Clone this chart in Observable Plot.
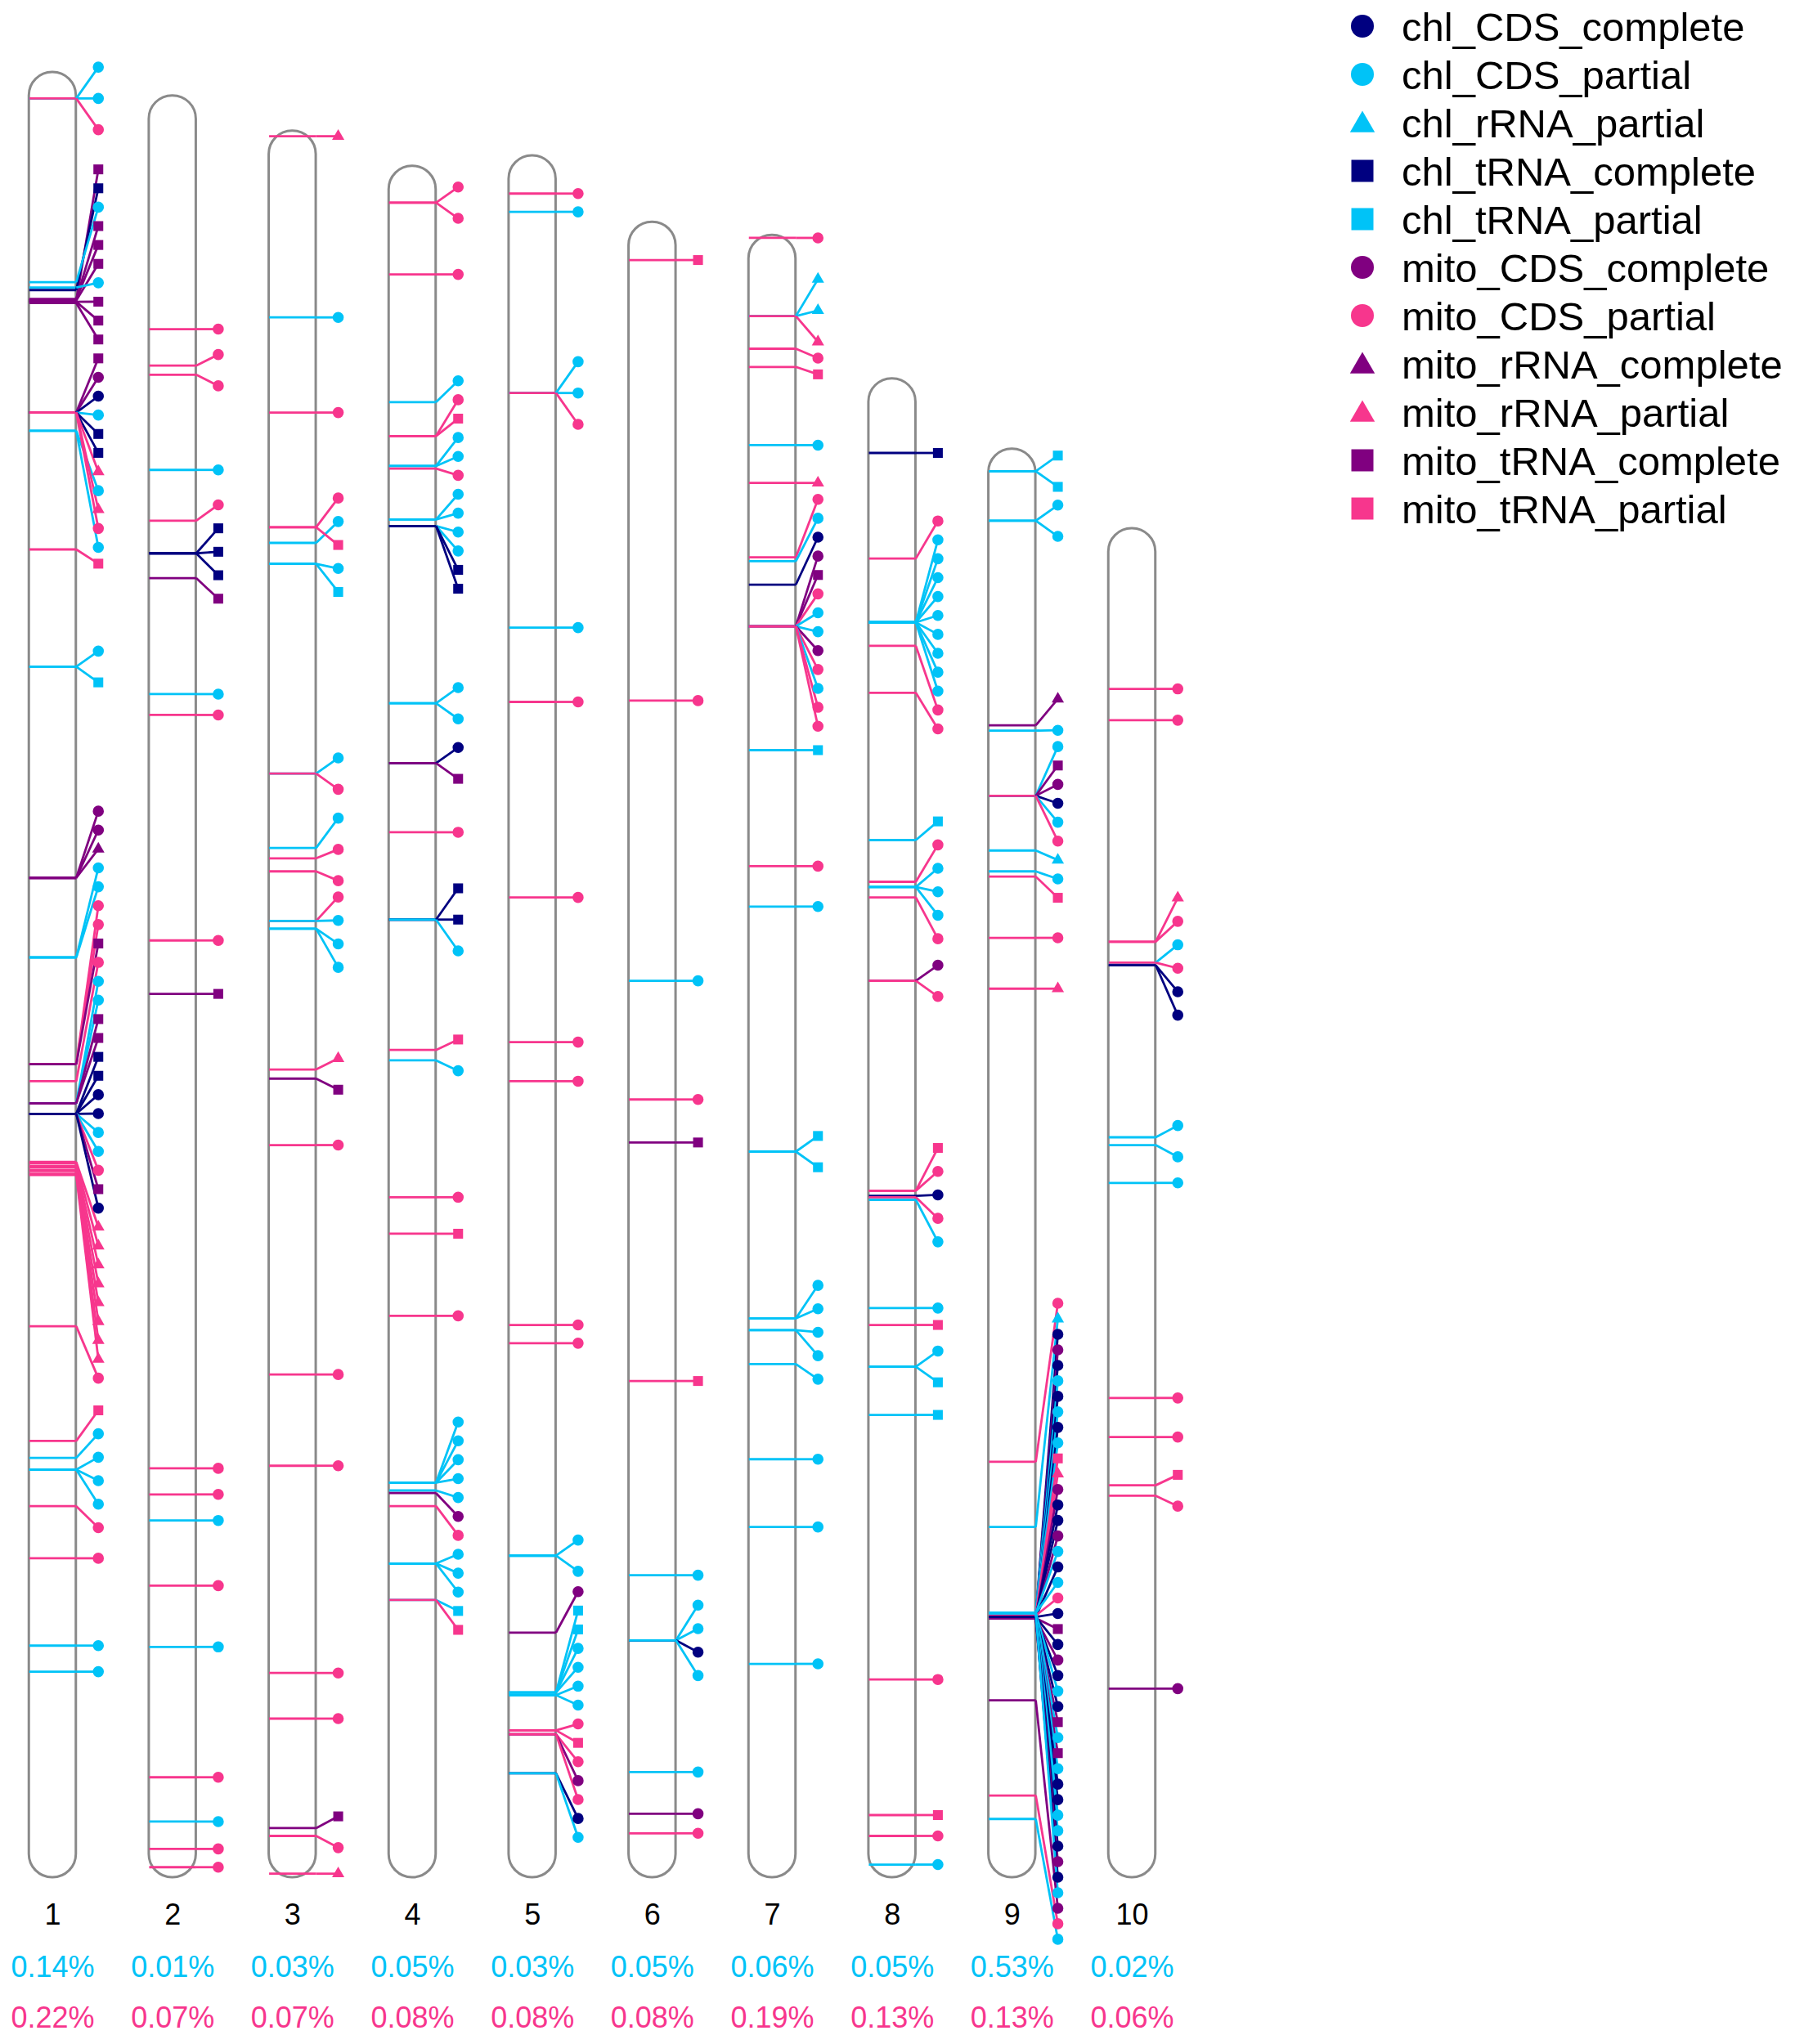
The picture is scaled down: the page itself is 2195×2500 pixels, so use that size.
<!DOCTYPE html>
<html>
<head>
<meta charset="utf-8">
<script src="https://cdn.jsdelivr.net/npm/d3@7"></script>
<script src="https://cdn.jsdelivr.net/npm/@observablehq/plot@0.6"></script>
<style>
  html, body { margin: 0; padding: 0; background: #fff; }
  #wrap { position: relative; width: 2195px; height: 2500px; }
  #legend { position: absolute; left: 1630px; top: 0; }
</style>
</head>
<body>
<div id="wrap"></div>
<script>
// ---------------- data ----------------
const chromosomes = [1, 2, 3, 4, 5, 6, 7, 8, 9, 10];
const chrLength = [138.5, 136.7, 134.0, 131.3, 132.1, 127.0, 126.0, 115.0, 109.6, 103.5]; // Mb
const chlPercent = ["0.14%", "0.01%", "0.03%", "0.05%", "0.03%", "0.05%", "0.06%", "0.05%", "0.53%", "0.02%"];
const mitoPercent = ["0.22%", "0.07%", "0.07%", "0.08%", "0.08%", "0.08%", "0.19%", "0.13%", "0.13%", "0.06%"];

const featureTypes = ["chl_CDS_complete", "chl_CDS_partial", "chl_rRNA_partial", "chl_tRNA_complete", "chl_tRNA_partial",
  "mito_CDS_complete", "mito_CDS_partial", "mito_rRNA_complete", "mito_rRNA_partial", "mito_tRNA_complete", "mito_tRNA_partial"];
const typeCodes = ["cCc", "cCp", "cRp", "cTc", "cTp", "mCc", "mCp", "mRc", "mRp", "mTc", "mTp"];
const typeColors = ["#000080", "#00C3F7", "#00C3F7", "#000080", "#00C3F7", "#800080", "#F7368D", "#800080", "#F7368D", "#800080", "#F7368D"];
const typeShapes = ["circle", "circle", "triangle", "square", "square", "circle", "circle", "triangle", "triangle", "square", "square"];

// [position along chromosome (Mb), feature type code], in label order
const chr1Features = [
  [2.0,"cCp"],[2.0,"cCp"],[2.0,"mCp"],
  [17.5,"mTc"],[16.7,"cTc"],[16.1,"cCp"],[17.4,"mTc"],[17.4,"mTc"],[17.5,"mTc"],[16.5,"cCp"],[17.6,"mTc"],[17.6,"mTc"],[17.7,"mTc"],
  [26.1,"mTc"],[26.1,"mCc"],[26.1,"cCc"],[26.1,"cCp"],[26.1,"cTc"],[26.1,"cTc"],[26.1,"mRp"],[27.5,"cCp"],[26.1,"mRp"],[26.1,"mCp"],[27.5,"cCp"],[36.6,"mTp"],
  [45.6,"cCp"],[45.6,"cTp"],
  [61.8,"mCc"],[61.8,"mCc"],[61.8,"mRc"],[67.9,"cCp"],[67.9,"cCp"],[76.1,"mCp"],[76.1,"mCp"],[76.1,"mTc"],[77.4,"mCp"],
  [79.1,"cCp"],[79.1,"cCp"],[79.1,"mTc"],[79.1,"mTc"],[79.9,"cTc"],[79.9,"cTc"],[79.9,"cCc"],[79.9,"cCc"],[79.9,"cCp"],[79.9,"cCp"],
  [79.9,"mCp"],[79.9,"mTc"],[79.9,"cCc"],
  [83.6,"mRp"],[83.7,"mRp"],[83.9,"mRp"],[84.0,"mRp"],[84.2,"mRp"],[84.3,"mRp"],[84.5,"mRp"],[84.6,"mRp"],[96.2,"mCp"],
  [105.0,"mTp"],[106.3,"cCp"],[107.2,"cCp"],[107.2,"cCp"],[107.2,"cCp"],[110.0,"mCp"],[114.0,"mCp"],[120.7,"cCp"],[122.7,"cCp"]
];
const chr2Features = [
  [17.9,"mCp"],[20.7,"mCp"],[21.4,"mCp"],[28.7,"cCp"],[32.6,"mCp"],[35.1,"cTc"],[35.1,"cTc"],[35.1,"cTc"],[37.0,"mTc"],
  [45.9,"cCp"],[47.5,"mCp"],[64.8,"mCp"],[68.9,"mTc"],[105.3,"mCp"],[107.3,"mCp"],[109.3,"cCp"],[114.3,"mCp"],[119.0,"cCp"],
  [129.0,"mCp"],[132.4,"cCp"],[134.5,"mCp"],[135.9,"mCp"]
];
const chr3Features = [
  [0.4,"mRp"],[14.3,"cCp"],[21.6,"mCp"],
  [30.4,"mCp"],[31.6,"cCp"],[30.4,"mTp"],[33.2,"cCp"],[33.2,"cTp"],
  [49.3,"cCp"],[49.3,"mCp"],
  [55.0,"cCp"],[55.8,"mCp"],[56.8,"mCp"],[60.6,"mCp"],[60.6,"cCp"],[61.2,"cCp"],[61.2,"cCp"],
  [72.0,"mRp"],[72.7,"mTc"],[77.8,"mCp"],[95.4,"mCp"],[102.4,"mCp"],[118.3,"mCp"],[121.8,"mCp"],
  [130.2,"mTc"],[130.8,"mCp"],[133.7,"mRp"]
];
const chr4Features = [
  [2.8,"mCp"],[2.8,"mCp"],[8.3,"mCp"],
  [18.1,"cCp"],[20.7,"mCp"],[20.7,"mTp"],[23.0,"cCp"],[23.0,"cCp"],[23.2,"mCp"],
  [27.1,"cCp"],[27.1,"cCp"],[27.6,"cCp"],[27.6,"cCp"],[27.6,"cTc"],[27.6,"cTc"],
  [41.2,"cCp"],[41.2,"cCp"],[45.8,"cCc"],[45.8,"mTc"],[51.1,"mCp"],[57.8,"cTc"],[57.8,"cTc"],[57.8,"cCp"],
  [67.8,"mTp"],[68.6,"cCp"],[79.1,"mCp"],[81.9,"mTp"],[88.2,"mCp"],
  [101.0,"cCp"],[101.0,"cCp"],[101.0,"cCp"],[101.0,"cCp"],[101.6,"cCp"],[101.8,"mCc"],[102.8,"mCp"],
  [107.2,"cCp"],[107.2,"cCp"],[107.2,"cCp"],[110.0,"cTp"],[110.0,"mTp"]
];
const chr5Features = [
  [2.9,"mCp"],[4.3,"cCp"],[18.2,"cCp"],[18.2,"cCp"],[18.2,"mCp"],[36.2,"cCp"],[41.9,"mCp"],[56.9,"mCp"],
  [68.0,"mCp"],[71.0,"mCp"],[89.7,"mCp"],[91.1,"mCp"],
  [107.4,"cCp"],[107.4,"cCp"],[113.3,"mCc"],[117.9,"cTp"],[117.9,"cTp"],[117.9,"cCp"],[117.9,"cCp"],[118.1,"cCp"],[118.1,"cCp"],
  [120.8,"mCp"],[120.8,"mTp"],[121.1,"mCp"],[121.1,"mCc"],[121.1,"mCp"],[124.1,"cCc"],[124.1,"cCp"]
];
const chr6Features = [
  [2.9,"mTp"],[36.7,"mCp"],[58.2,"cCp"],[67.3,"mCp"],[70.6,"mTc"],[88.9,"mTp"],[103.8,"cCp"],
  [108.8,"cCp"],[108.8,"cCp"],[108.8,"cCc"],[108.8,"cCp"],[118.9,"cCp"],[122.1,"mCc"],[123.6,"mCp"]
];
const chr7Features = [
  [0.2,"mCp"],[6.2,"cRp"],[6.2,"cRp"],[6.2,"mRp"],[8.7,"mCp"],[10.1,"mTp"],[16.1,"cCp"],
  [19.0,"mRp"],[24.7,"mCp"],[25.0,"cCp"],[26.8,"cCc"],[30.0,"mCc"],[30.0,"mTc"],[30.0,"mCp"],[30.0,"cCp"],[30.0,"cCp"],
  [30.0,"mCc"],[30.0,"mCp"],[30.0,"cCp"],[30.0,"mCp"],[30.0,"mCp"],[39.5,"cTp"],
  [48.4,"mCp"],[51.5,"cCp"],[70.3,"cTp"],[70.3,"cTp"],[83.1,"cCp"],[83.1,"cCp"],[84.0,"cCp"],[84.0,"cCp"],[86.6,"cCp"],
  [93.9,"cCp"],[99.1,"cCp"],[109.6,"cCp"]
];
const chr8Features = [
  [5.7,"cTc"],[13.8,"mCp"],
  [18.7,"cCp"],[18.7,"cCp"],[18.7,"cCp"],[18.7,"cCp"],[18.7,"cCp"],[18.7,"cCp"],[18.7,"cCp"],[18.7,"cCp"],[18.7,"cCp"],
  [20.5,"mCp"],[24.1,"mCp"],
  [35.4,"cTp"],[38.6,"mCp"],[39.0,"cCp"],[39.0,"cCp"],[39.0,"cCp"],[39.8,"mCp"],[46.2,"mCc"],[46.2,"mCp"],
  [62.3,"mTp"],[62.3,"mCp"],[62.7,"cCc"],[62.8,"mCp"],[63.0,"cCp"],
  [71.3,"cCp"],[72.6,"mTp"],[75.8,"cCp"],[75.8,"cTp"],[79.5,"cTp"],
  [99.8,"mCp"],[110.2,"mTp"],[111.8,"mCp"],[114.0,"cCp"]
];
const chr9Features = [
  [1.7,"cTp"],[1.7,"cTp"],[5.5,"cCp"],[5.5,"cCp"],
  [21.2,"mRc"],[21.6,"cCp"],[26.6,"cCp"],[26.6,"mTc"],[26.6,"mCc"],[26.6,"cCc"],[26.6,"cCp"],[26.6,"mCp"],
  [30.8,"cRp"],[32.4,"cCp"],[32.8,"mTp"],[37.5,"mCp"],[41.4,"mRp"],
  [77.7,"mCp"],[82.7,"cRp"],
  [89.6,"cCc"],[89.7,"mCc"],[89.6,"cCc"],[89.3,"cCp"],[89.6,"cCc"],[89.3,"cCp"],[89.6,"cCc"],[89.3,"cCp"],[89.5,"mTp"],[89.5,"mRp"],
  [89.7,"mCc"],[89.6,"cCc"],[89.6,"cCc"],[89.7,"mCc"],[89.3,"cCp"],[89.6,"cCc"],[89.3,"cCp"],[89.5,"mCp"],[89.6,"cCc"],[89.7,"mTc"],
  [89.6,"cCc"],[89.7,"mCc"],[89.6,"cCc"],[89.3,"cCp"],[89.6,"cCc"],[89.7,"mTc"],[89.3,"cCp"],[89.7,"mTc"],[89.3,"cCp"],[89.6,"cCc"],
  [89.6,"cCc"],[89.3,"cCp"],[89.3,"cCp"],[89.6,"cCc"],[89.7,"mCc"],[89.6,"cCc"],[89.3,"cCp"],
  [96.0,"mCc"],[103.3,"mCp"],[105.1,"cCp"]
];
const chr10Features = [
  [12.3,"mCp"],[14.7,"mCp"],[31.7,"mRp"],[31.7,"mCp"],[33.3,"cCp"],[33.3,"mCp"],[33.5,"cCc"],[33.5,"cCc"],
  [46.7,"cCp"],[47.3,"cCp"],[50.2,"cCp"],[66.7,"mCp"],[69.7,"mCp"],[73.4,"mTp"],[74.2,"mCp"],[89.0,"mCc"]
];
const featuresByChr = [chr1Features, chr2Features, chr3Features, chr4Features, chr5Features,
  chr6Features, chr7Features, chr8Features, chr9Features, chr10Features];

// ---------------- label layout (1-D repel in Mb units) ----------------
const SPACE = 1.25;
function spacingFor(n) {           // label spacing used inside a group of n labels
  if (n <= 3) return 2.4;
  if (n <= 6) return 1.8;
  if (n <= 36) return 1.45;
  return 1.19;
}
function pav(targets, gaps) {
  const clusters = [];
  for (let i = 0; i < targets.length; i++) {
    clusters.push({start: i, offs: [0], pos: targets[i]});
    while (clusters.length > 1) {
      const b = clusters[clusters.length - 1], a = clusters[clusters.length - 2];
      const aLastOff = a.offs[a.offs.length - 1];
      if (b.pos >= a.pos + aLastOff + gaps[b.start] - 1e-9) break;
      const shift = aLastOff + gaps[b.start];
      const offs = a.offs.concat(b.offs.map(o => o + shift));
      let sum = 0;
      for (let k = 0; k < offs.length; k++) sum += targets[a.start + k] - offs[k];
      clusters.splice(clusters.length - 2, 2, {start: a.start, offs, pos: sum / offs.length});
    }
  }
  const out = new Array(targets.length);
  for (const c of clusters) c.offs.forEach((o, k) => out[c.start + k] = c.pos + o);
  return {out, clusters};
}
function layoutLabels(targets) {
  const first = pav(targets, targets.map(() => SPACE));
  const gaps = targets.map(() => SPACE);
  for (const c of first.clusters) {
    const m = c.offs.length, g = spacingFor(m);
    for (let i = c.start + 1; i < c.start + m; i++) gaps[i] = g;
  }
  return pav(targets, gaps).out;
}

const maxLen = d3.max(chrLength);
const chromData = chromosomes.map((c, i) => ({chr: c, len: chrLength[i], top: maxLen - chrLength[i],
  chl: chlPercent[i], mito: mitoPercent[i]}));
const codeToType = new Map(typeCodes.map((c, i) => [c, featureTypes[i]]));
const features = [];
featuresByChr.forEach((list, i) => {
  const top = maxLen - chrLength[i];
  const labels = layoutLabels(list.map(d => d[0]));
  list.forEach((d, k) => features.push({
    chr: chromosomes[i], pos: top + d[0], label: top + labels[k], type: codeToType.get(d[1])
  }));
});

// ---------------- chart ----------------
const HW = 0.196;   // half chromosome width (in chromosome-index units)
const MO = 0.38;    // marker offset from chromosome centre
const symbolOf = {circle: d3.symbolCircle, triangle: d3.symbolTriangle, square: d3.symbolSquare};
const PINK = "#F7368D", BLUE = "#00C3F7";

const chart = Plot.plot({
  width: 2195,
  height: 2500,
  marginTop: 88,
  marginBottom: 204,
  marginLeft: 0,
  marginRight: 0,
  x: {domain: [1, 10], range: [64, 1384], axis: null},
  y: {domain: [0, maxLen], range: [88, 2296], axis: null},
  color: {domain: featureTypes, range: typeColors},
  symbol: {domain: featureTypes, range: typeShapes.map(s => symbolOf[s])},
  style: {fontFamily: "'Liberation Sans', Arial, sans-serif", background: "white"},
  marks: [
    Plot.rect(chromData, {x1: d => d.chr - HW, x2: d => d.chr + HW, y1: "top", y2: maxLen,
      rx: 28.5, fill: "white", stroke: "#8a8a8a", strokeWidth: 3}),
    Plot.link(features, {x1: d => d.chr - HW, x2: d => d.chr + HW, y1: "pos", y2: "pos",
      stroke: "type", strokeWidth: 2.8}),
    Plot.link(features, {x1: d => d.chr + HW, y1: "pos", x2: d => d.chr + MO, y2: "label",
      stroke: "type", strokeWidth: 2.8}),
    Plot.dot(features.filter(d => !d.type.includes("rRNA")), {x: d => d.chr + MO, y: "label",
      fill: "type", symbol: "type", r: 6.8}),
    Plot.dot(features.filter(d => d.type.includes("rRNA")), {x: d => d.chr + MO, y: "label",
      fill: "type", symbol: "type", r: 5.6}),
    Plot.text(chromData, {x: "chr", text: d => String(d.chr), frameAnchor: "bottom", dy: 57,
      fontSize: 36, fill: "black"}),
    Plot.text(chromData, {x: "chr", text: "chl", frameAnchor: "bottom", dy: 121,
      fontSize: 36, fill: BLUE}),
    Plot.text(chromData, {x: "chr", text: "mito", frameAnchor: "bottom", dy: 183,
      fontSize: 36, fill: PINK})
  ]
});
document.getElementById("wrap").appendChild(chart);

// ---------------- legend ----------------
const legend = d3.create("svg").attr("id", "legend").attr("width", 565).attr("height", 660)
  .style("font-family", "'Liberation Sans', Arial, sans-serif");
const sizeOf = {circle: Math.PI * 14 * 14, square: 27 * 27, triangle: 400};
featureTypes.forEach((t, i) => {
  const g = legend.append("g").attr("transform", `translate(0,${32 + 59 * i})`);
  g.append("path")
    .attr("transform", `translate(36,${typeShapes[i] === "triangle" ? 3 : 0})`)
    .attr("d", d3.symbol().type(symbolOf[typeShapes[i]]).size(sizeOf[typeShapes[i]])())
    .attr("fill", typeColors[i]);
  g.append("text").attr("x", 84).attr("dy", "0.36em").attr("font-size", 49).attr("fill", "black").text(t);
});
document.getElementById("wrap").appendChild(legend.node());
</script>
</body>
</html>
